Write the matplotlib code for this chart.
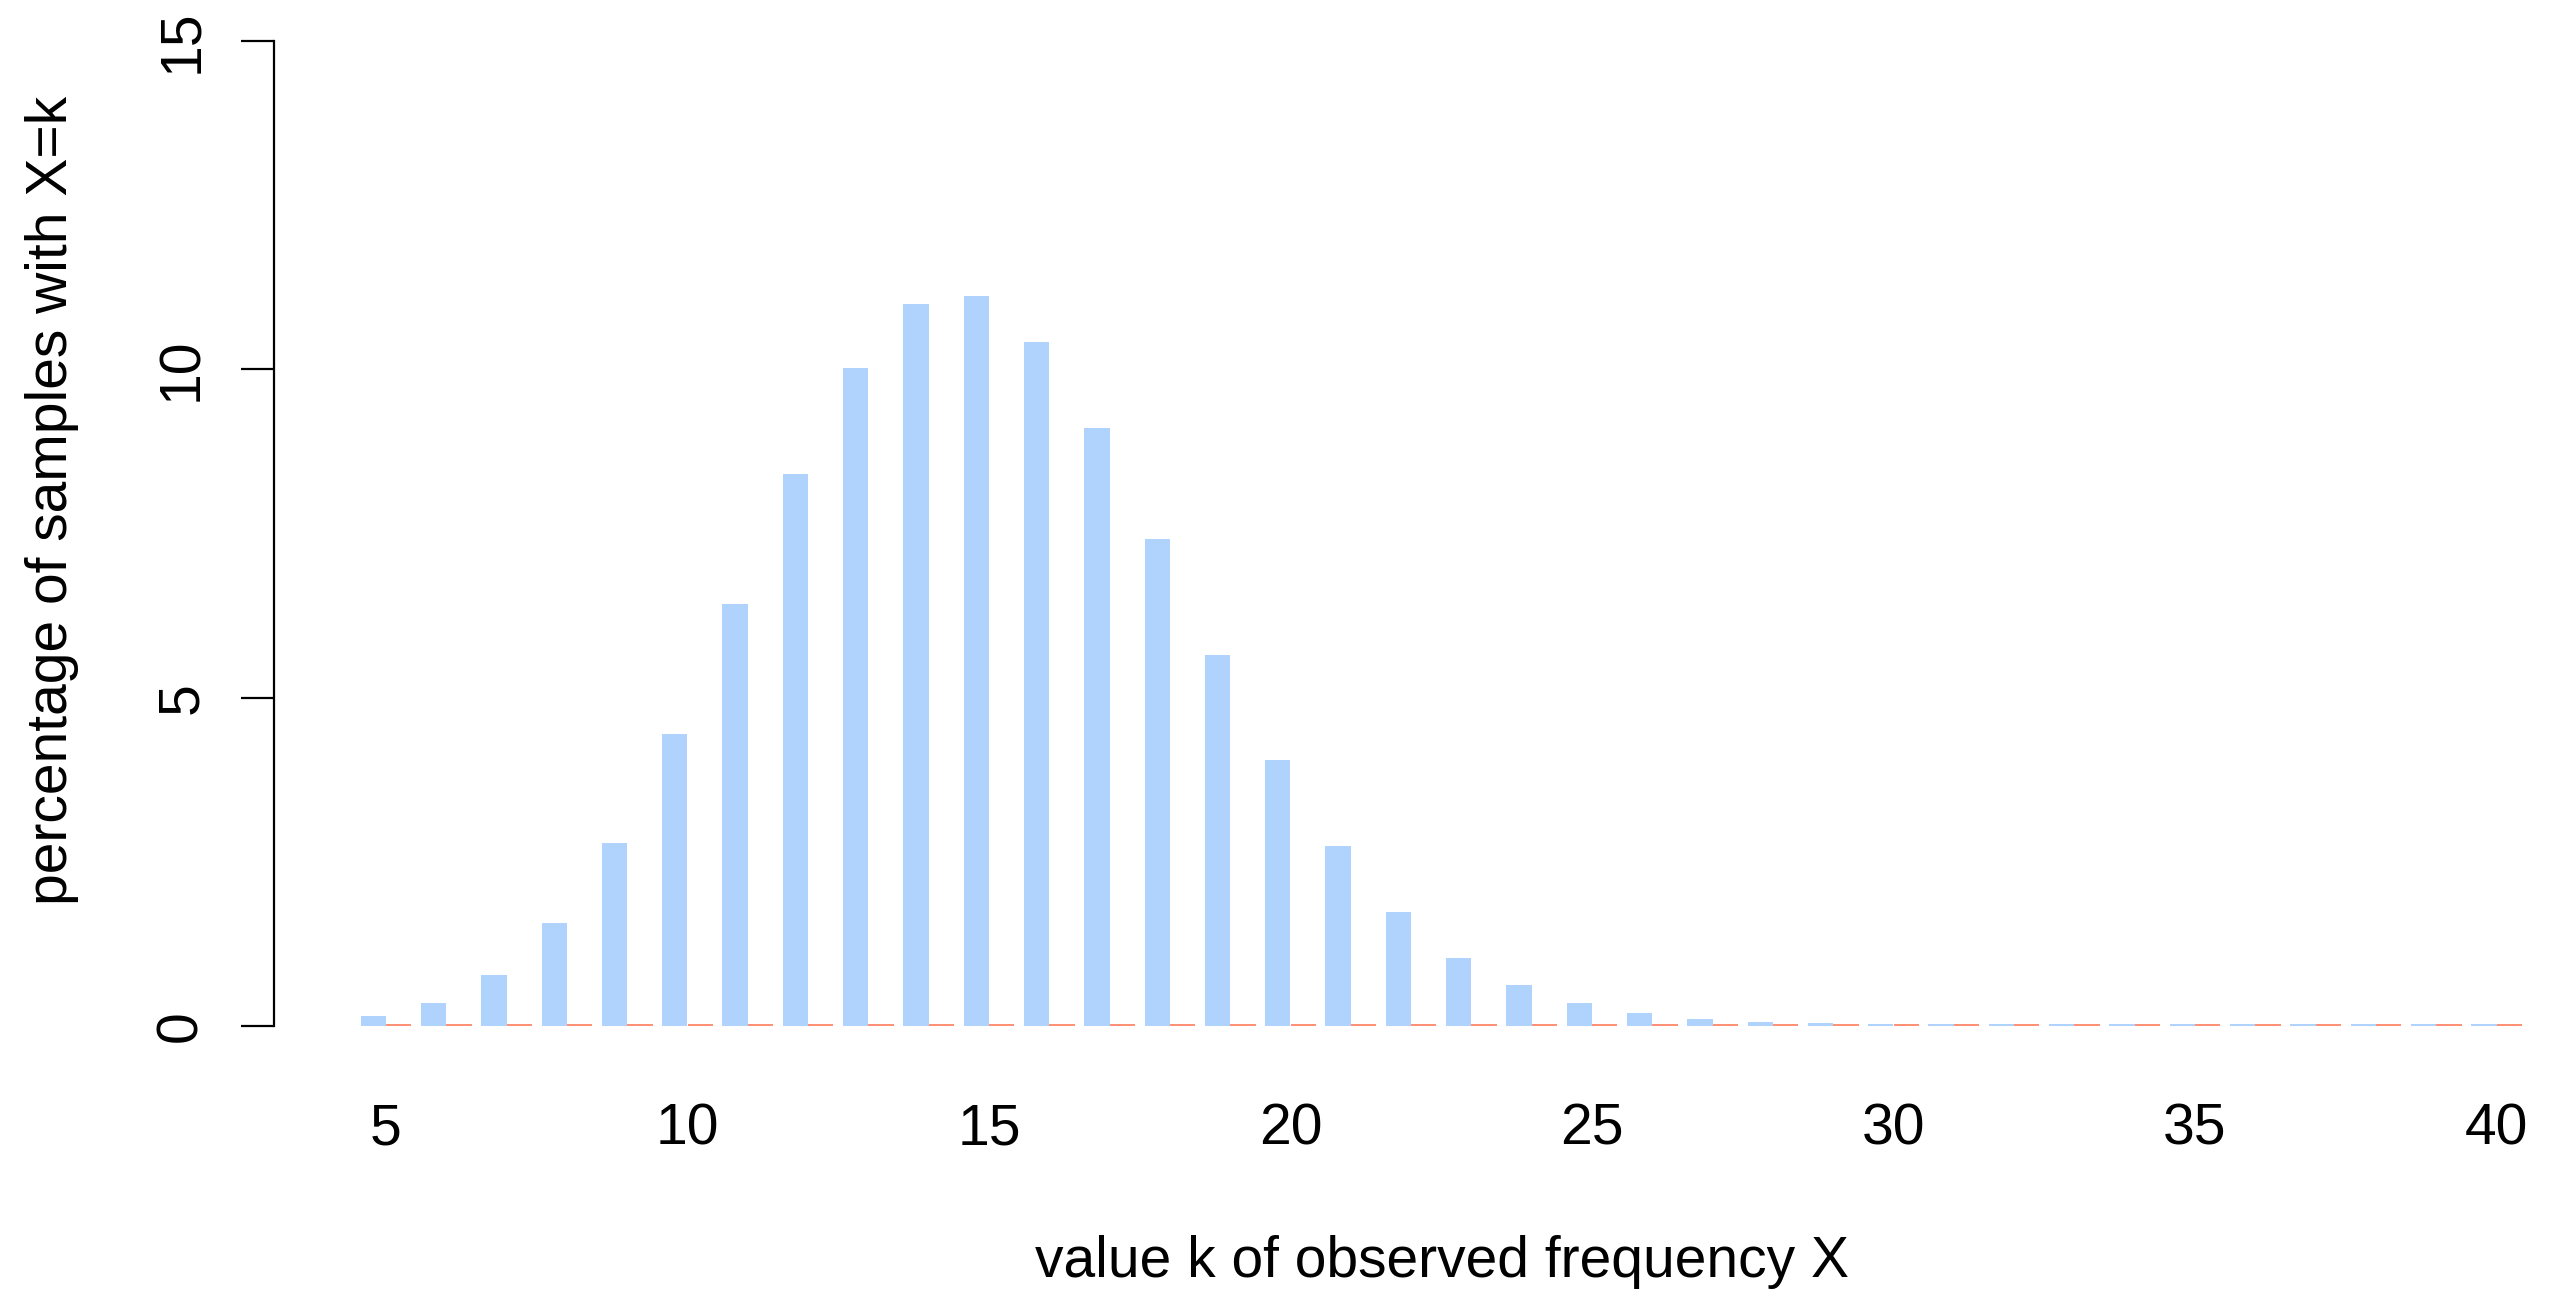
import matplotlib
matplotlib.use("Agg")
import matplotlib.pyplot as plt
import numpy as np

plt.rcParams['font.family'] = ['Liberation Sans', 'DejaVu Sans']

k_values = list(range(5, 41))
observed_pct = [0.15, 0.35, 0.77, 1.57, 2.79, 4.45, 6.42, 8.41, 10.02, 11.0,
                11.12, 10.42, 9.10, 7.41, 5.65, 4.05, 2.74, 1.74, 1.04, 0.62,
                0.35, 0.20, 0.10, 0.06, 0.04, 0.03, 0.03, 0.03, 0.03, 0.03,
                0.03, 0.03, 0.03, 0.03, 0.03, 0.03]
other_pct = [0.03] * len(k_values)
x_ticks = [5, 10, 15, 20, 25, 30, 35, 40]
y_ticks = [0, 5, 10, 15]

W, H = 2561, 1299
fig = plt.figure(figsize=(W / 100, H / 100), dpi=100)
ax_left = 274 / W
ax_bottom = 1 - 1026 / H
ax_top = 1 - 41 / H
ax = fig.add_axes([ax_left, ax_bottom, 1 - ax_left, ax_top - ax_bottom])

blue = '#B0D3FE'
red = '#FF9177'
bw = 0.42
x = np.array(k_values, dtype=float)
ax.bar(x - bw / 2, observed_pct, width=bw, color=blue, linewidth=0)
ax.bar(x + bw / 2, other_pct, width=bw, color=red, linewidth=0)

px_per_unit = 60.3
x0 = 5 - (386 - 274) / px_per_unit
ax.set_ylim(0, 15)
ax.set_xlim(x0, x0 + (W - 274) / px_per_unit)

for s in ['top', 'right', 'bottom']:
    ax.spines[s].set_visible(False)
ax.spines['left'].set_linewidth(1.6)
ax.spines['left'].set_bounds(0, 15)

ax.set_yticks(y_ticks)
ax.set_yticklabels([str(v) for v in y_ticks], rotation=90, va='center')
ax.tick_params(axis='y', length=24, width=1.6, pad=23, labelsize=41)
ax.set_xticks(x_ticks)
ax.set_xticklabels([str(v) for v in x_ticks])
ax.tick_params(axis='x', length=0, pad=55, labelsize=41)

fig.text(1442 / W, 1 - 1262 / H, 'value k of observed frequency X', ha='center', va='center', fontsize=41)
fig.text(52 / W, 1 - 500 / H, 'percentage of samples with X=k', ha='center', va='center', rotation=90, fontsize=41)

fig.savefig('out.png', dpi=100)
